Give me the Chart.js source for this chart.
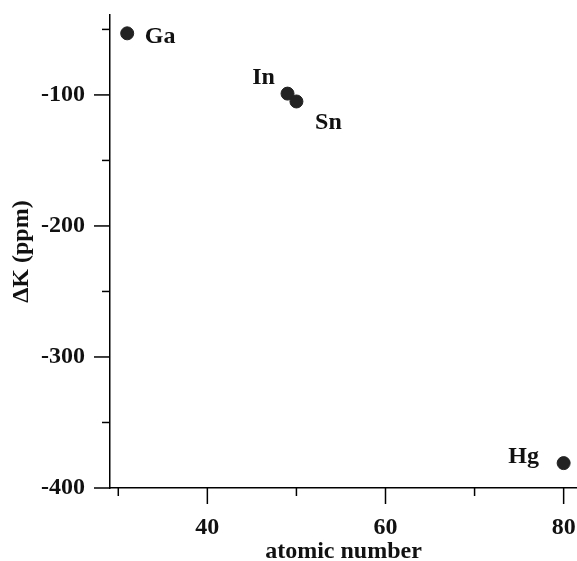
<!DOCTYPE html>
<html>
<head>
<meta charset="utf-8">
<script src="https://cdn.jsdelivr.net/npm/chart.js@4"></script>
<style>
  html, body { margin: 0; padding: 0; background: #fff; }
  #wrap { width: 577px; height: 561px; }
</style>
</head>
<body>
<div id="wrap"><canvas id="chart" width="577" height="561"></canvas></div>
<script>
// данные
const elements = ['Ga', 'In', 'Sn', 'Hg'];
const atomicNumbers = [31, 49, 50, 80];
const deltaK = [-53, -99, -105, -381];

const xTickValues = [30, 40, 50, 60, 70, 80];
const xLabeled = [40, 60, 80];
const yTickValues = [-400, -350, -300, -250, -200, -150, -100, -50];
const yLabeled = [-400, -300, -200, -100];

// смещения подписей от точек (px)
const labelOffsets = [[33, 3], [-24, -16], [32, 21], [-40, -6]];

const FONT = "'Liberation Serif', 'Times New Roman', serif";

// рисуем засечки вручную: большие и малые разной длины
const tickPlugin = {
  id: 'ticks',
  afterDraw(chart) {
    const ctx = chart.ctx;
    const xs = chart.scales.x, ys = chart.scales.y;
    ctx.save();
    ctx.strokeStyle = '#000';
    ctx.lineWidth = 1.5;
    xTickValues.forEach(v => {
      const px = xs.getPixelForValue(v);
      const len = xLabeled.includes(v) ? 16 : 8;
      ctx.beginPath();
      ctx.moveTo(px, xs.top);
      ctx.lineTo(px, xs.top + len);
      ctx.stroke();
    });
    yTickValues.forEach(v => {
      const py = ys.getPixelForValue(v);
      const len = yLabeled.includes(v) ? 16 : 8;
      ctx.beginPath();
      ctx.moveTo(ys.right, py);
      ctx.lineTo(ys.right - len, py);
      ctx.stroke();
    });
    ctx.restore();
  }
};

// подписи элементов возле точек
const labelPlugin = {
  id: 'pointLabels',
  afterDatasetsDraw(chart) {
    const ctx = chart.ctx;
    const meta = chart.getDatasetMeta(0);
    ctx.save();
    ctx.font = 'bold 24px ' + FONT;
    ctx.fillStyle = '#111';
    ctx.textAlign = 'center';
    ctx.textBaseline = 'middle';
    meta.data.forEach((pt, i) => {
      const [dx, dy] = labelOffsets[i];
      ctx.fillText(elements[i], pt.x + dx, pt.y + dy);
    });
    ctx.restore();
  }
};

// убираем автоматические поля под крайние подписи
const noPad = s => {
  s.paddingTop = 0;
  s.paddingBottom = 0;
  s.paddingLeft = 0;
  s.paddingRight = 0;
};

new Chart(document.getElementById('chart'), {
  type: 'scatter',
  data: {
    datasets: [{
      data: atomicNumbers.map((x, i) => ({ x: x, y: deltaK[i] })),
      backgroundColor: '#222',
      borderColor: '#222',
      pointRadius: 6.5,
      pointHoverRadius: 6.5
    }]
  },
  options: {
    responsive: false,
    animation: false,
    layout: { autoPadding: false, padding: { top: 15, right: 0, left: 0, bottom: 0 } },
    plugins: {
      legend: { display: false },
      tooltip: { enabled: false }
    },
    scales: {
      x: {
        type: 'linear',
        min: 29.07,
        max: 81.5,
        afterBuildTicks: s => { s.ticks = xTickValues.map(v => ({ value: v })); },
        afterFit: s => { s.height = 73; noPad(s); },
        grid: { display: true, drawOnChartArea: false, drawTicks: false, tickLength: 0 },
        border: { display: true, color: '#000', width: 1.5 },
        ticks: {
          padding: 25,
          color: '#111',
          font: { family: FONT, size: 24, weight: 'bold' },
          maxRotation: 0,
          autoSkip: false,
          callback: v => xLabeled.includes(v) ? String(v) : ''
        },
        title: {
          display: true,
          text: 'atomic number',
          color: '#111',
          font: { family: FONT, size: 24, weight: 'bold' },
          padding: { top: 0, bottom: -5 }
        }
      },
      y: {
        type: 'linear',
        min: -400,
        max: -39,
        afterBuildTicks: s => { s.ticks = yTickValues.map(v => ({ value: v })); },
        afterFit: s => { s.width = 110; noPad(s); },
        grid: { display: true, drawOnChartArea: false, drawTicks: false, tickLength: 0 },
        border: { display: true, color: '#000', width: 1.5 },
        ticks: {
          padding: 25,
          color: '#111',
          font: { family: FONT, size: 24, weight: 'bold' },
          autoSkip: false,
          callback: v => yLabeled.includes(v) ? String(v) : ''
        },
        title: {
          display: true,
          text: 'ΔK (ppm)',
          color: '#111',
          font: { family: FONT, size: 24, weight: 'bold' },
          padding: { top: 7, bottom: 0 }
        }
      }
    }
  },
  plugins: [tickPlugin, labelPlugin]
});
</script>
</body>
</html>
